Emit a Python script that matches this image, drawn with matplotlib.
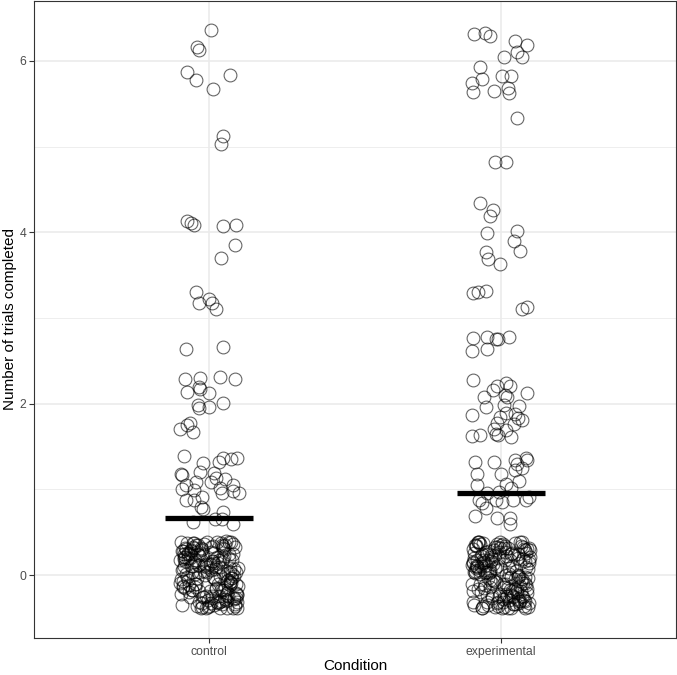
import matplotlib
matplotlib.use('Agg')
import matplotlib.pyplot as plt

# categories and the group means
conditions = ['control', 'experimental']
mean_trials = [0.66, 0.96]

# jittered points, horizontal offset from the category and trials value
ctrl_dx = [0.006, -0.042, -0.034, -0.076, -0.045, 0.072, 0.013, 0.046, 0.041,
           -0.074, -0.063, -0.050, 0.047, 0.092, 0.090, 0.040,
           -0.045, -0.033, -0.002, 0.011, 0.024, -0.079, 0.049,
           -0.083, -0.031, 0.037, 0.089, -0.074, -0.034, -0.031, -0.002, 0.046,
           -0.039, -0.034, 0.000, -0.067, -0.099, -0.074, -0.056,
           -0.087, -0.022, 0.049, 0.074, 0.097, 0.033, -0.096, -0.092, -0.031,
           0.018, 0.024, 0.007, 0.055, -0.079, -0.045, -0.093, -0.051, 0.038,
           0.043, 0.083, 0.081, 0.102, -0.079, -0.025, -0.051, -0.027, -0.020,
           0.046, -0.054, 0.021, 0.043, 0.083,
           -0.083, 0.031, -0.017, 0.072, -0.054, 0.091, 0.012, -0.096, 0.048, -0.029,
           0.064, -0.071, 0.004, 0.043, -0.099, 0.079, -0.041, 0.022, -0.062, 0.097,
           -0.008, 0.056, -0.087, 0.027, 0.069, -0.048, -0.021, 0.088, -0.074, 0.015,
           0.039, -0.091, 0.061, -0.033, -0.003, 0.082, -0.058, 0.019, -0.094, 0.052,
           -0.044, 0.074, -0.012, 0.093, -0.079, 0.035, -0.051, 0.066, 0.007, -0.068,
           0.099, -0.024, 0.046, -0.088, 0.013, 0.084, -0.036, 0.053, -0.063, 0.024,
           -0.081, 0.071, -0.039, 0.089, -0.006, 0.033, -0.097, 0.059, -0.047, 0.002,
           0.041, -0.073, 0.078, -0.019, 0.011, -0.092, 0.049, -0.027, 0.096, -0.057,
           0.018, -0.084, 0.068, -0.043, 0.029, 0.087, -0.014, -0.052, 0.063, -0.098,
           -0.001, 0.038, -0.069, 0.081, -0.023, 0.054, -0.089, 0.009, -0.034, 0.073,
           -0.061, 0.094, -0.038, 0.021, -0.077, 0.058, 0.026, -0.011, 0.086, -0.049,
           0.005, -0.066, 0.044, 0.076, -0.086, 0.016, -0.031, 0.051, -0.059, 0.067,
           0.014, -0.095, 0.062, -0.018, 0.091, -0.042, 0.034, -0.078, 0.047, -0.004,
           0.071, -0.029, 0.045, -0.086, 0.008, 0.093, -0.053, 0.025, -0.071, 0.057,
           -0.015, 0.083, -0.093, 0.037, -0.045, 0.065, -0.007, 0.099, -0.064, 0.028,
           -0.035, 0.049, -0.082, 0.011, 0.075, -0.056, 0.042, -0.022, 0.088, -0.090,
           0.052, -0.067, 0.018, -0.039, 0.084, -0.010, 0.063, -0.085, 0.030, -0.058,
           -0.026, 0.097, -0.047, 0.006, 0.070, -0.091, 0.040, -0.016, 0.079, -0.072]
ctrl_y = [6.36, 6.16, 6.13, 5.87, 5.78, 5.84, 5.67, 5.12, 5.03,
          4.13, 4.11, 4.08, 4.07, 4.08, 3.85, 3.70,
          3.30, 3.18, 3.22, 3.18, 3.11, 2.64, 2.66,
          2.29, 2.30, 2.31, 2.29, 2.14, 2.19, 2.17, 2.13, 2.01,
          1.98, 1.95, 1.96, 1.77, 1.70, 1.75, 1.67,
          1.39, 1.31, 1.37, 1.35, 1.37, 1.32, 1.18, 1.17, 1.20,
          1.19, 1.13, 1.08, 1.12, 1.05, 1.09, 1.00, 0.99, 1.01,
          0.96, 1.05, 0.98, 0.96, 0.87, 0.91, 0.87, 0.79, 0.77,
          0.74, 0.62, 0.65, 0.65, 0.60,
          0.21, -0.33, 0.05, -0.12, 0.37, -0.27, 0.14, -0.05, 0.31, -0.38,
          0.02, 0.26, -0.19, 0.35, -0.09, 0.18, -0.36, 0.09, 0.29, -0.23,
          0.39, -0.14, 0.11, -0.31, 0.24, 0.01, -0.26, 0.33, -0.02, 0.16,
          -0.39, 0.28, -0.07, 0.12, -0.29, 0.36, -0.17, 0.07, -0.35, 0.22,
          -0.11, 0.38, -0.24, 0.04, 0.30, -0.32, 0.15, -0.06, 0.27, -0.20,
          0.08, -0.37, 0.19, -0.13, 0.34, -0.01, 0.23, -0.28, 0.10, -0.16,
          0.32, -0.08, 0.25, -0.34, 0.03, 0.17, -0.22, 0.40, -0.10, 0.13,
          -0.30, 0.20, -0.04, 0.36, -0.25, 0.06, -0.18, 0.29, -0.39, 0.11,
          0.26, -0.15, 0.38, -0.03, 0.14, -0.27, 0.00, 0.32, -0.21, 0.18,
          -0.36, 0.09, -0.12, 0.24, -0.33, 0.35, -0.07, 0.16, -0.19, 0.03,
          0.28, -0.31, 0.12, -0.05, 0.37, -0.23, 0.21, -0.38, 0.07, -0.14,
          0.33, -0.26, 0.15, -0.09, 0.25, -0.35, 0.04, 0.30, -0.17, 0.19,
          -0.02, 0.39, -0.29, 0.10, -0.11, 0.27, -0.24, 0.01, 0.34, -0.37,
          -0.08, 0.31, -0.34, 0.19, 0.06, -0.21, 0.37, -0.15, 0.24, -0.30,
          0.13, -0.39, 0.28, -0.01, 0.35, -0.25, 0.09, -0.13, 0.20, 0.38,
          -0.32, 0.02, 0.16, -0.27, -0.04, 0.33, -0.18, 0.23, -0.36, 0.07,
          -0.17, 0.26, -0.03, 0.35, -0.28, 0.12, -0.38, 0.21, -0.10, 0.04,
          0.30, -0.22, 0.17, -0.33, 0.08, -0.14, 0.37, -0.26, 0.01, -0.06]

exp_dx = [-0.092, -0.056, -0.038, 0.048, 0.090, 0.054, 0.072, 0.010, -0.072,
          -0.064, -0.098, -0.097, 0.004, 0.033, -0.024, 0.025, 0.027,
          0.054, -0.021, 0.016, -0.070, -0.026, -0.038, -0.049, 0.056,
          0.045, 0.065, -0.052, -0.043, -0.004,
          -0.095, -0.079, -0.050, 0.073, 0.090, -0.095, -0.047, -0.018, -0.009,
          0.027, -0.098, -0.047, -0.096, -0.013, 0.018, 0.031, -0.026, -0.058,
          0.013, 0.022, 0.088, -0.050, 0.010, 0.062, 0.019, 0.048, -0.098,
          -0.004, 0.058, 0.073, -0.015, 0.045, -0.022, 0.016, -0.018, -0.010,
          -0.098, -0.070, 0.033, -0.090, -0.024, 0.047, 0.085, 0.090, 0.054,
          0.048, 0.073, -0.083, 0.001, 0.062, -0.083, 0.016, 0.035, -0.047,
          -0.007, -0.075, -0.064, -0.052, -0.018, 0.004, 0.042, 0.085, 0.096,
          -0.090, -0.013, 0.031, 0.031,
          0.057, -0.081, 0.014, -0.036, 0.092, -0.064, 0.027, -0.097, 0.071, -0.009,
          -0.052, 0.083, -0.024, 0.041, -0.088, 0.006, 0.066, -0.043, 0.098, -0.071,
          0.019, -0.014, 0.077, -0.059, 0.034, -0.093, 0.049, 0.002, -0.076, 0.088,
          -0.031, 0.061, -0.046, 0.012, -0.099, 0.073, -0.019, 0.037, -0.066, 0.095,
          0.024, -0.084, 0.054, -0.007, 0.081, -0.038, 0.009, -0.061, 0.068, -0.091,
          0.043, -0.027, 0.089, -0.049, 0.016, -0.073, 0.058, -0.011, 0.096, -0.056,
          -0.002, 0.074, -0.086, 0.031, -0.041, 0.063, -0.095, 0.021, 0.085, -0.068,
          0.047, -0.017, 0.079, -0.034, -0.089, 0.011, 0.069, -0.054, 0.036, -0.003,
          0.093, -0.078, 0.026, -0.044, 0.059, -0.013, -0.098, 0.082, -0.029, 0.052,
          0.004, -0.063, 0.072, -0.021, 0.039, -0.083, 0.087, -0.047, 0.018, -0.072,
          0.064, -0.006, 0.029, -0.091, 0.046, -0.037, 0.097, -0.058, 0.008, 0.076,
          -0.025, -0.079, 0.055, -0.015, 0.084, -0.051, 0.033, -0.094, 0.067, 0.001,
          -0.039, 0.091, -0.069, 0.022, -0.085, 0.044, 0.078, -0.032, 0.013, -0.061,
          -0.048, 0.086, -0.012, 0.061, -0.091, 0.032, -0.066, 0.099, -0.027, 0.017,
          0.075, -0.081, 0.041, -0.004, -0.058, 0.092, -0.035, 0.053, -0.097, 0.024,
          0.069, -0.019, -0.074, 0.038, 0.081, -0.044, 0.006, -0.087, 0.057, -0.031,
          -0.068, 0.028, -0.089, 0.050, -0.005, 0.080, -0.042, 0.015, -0.077, 0.065,
          0.035, -0.060, 0.095, -0.020, 0.007, -0.095, 0.060, -0.033, 0.023, 0.083]
exp_y = [6.32, 6.33, 6.29, 6.23, 6.19, 6.11, 6.05, 6.05, 5.93,
         5.79, 5.74, 5.64, 5.82, 5.83, 5.65, 5.68, 5.63,
         5.33, 4.82, 4.82, 4.34, 4.26, 4.19, 3.99, 4.02,
         3.90, 3.78, 3.77, 3.69, 3.63,
         3.29, 3.30, 3.31, 3.10, 3.13, 2.77, 2.78, 2.76, 2.76,
         2.78, 2.61, 2.64, 2.28, 2.21, 2.24, 2.21, 2.16, 2.08,
         2.10, 2.08, 2.12, 1.96, 1.98, 1.97, 1.89, 1.88, 1.87,
         1.84, 1.83, 1.81, 1.77, 1.76, 1.71, 1.69, 1.65, 1.63,
         1.62, 1.64, 1.61, 1.32, 1.32, 1.34, 1.37, 1.34, 1.30,
         1.23, 1.25, 1.18, 1.18, 1.10, 1.05, 1.06, 1.01, 0.96,
         0.97, 0.87, 0.84, 0.78, 0.88, 0.85, 0.87, 0.88, 0.91,
         0.69, 0.66, 0.66, 0.60,
         -0.28, 0.17, 0.34, -0.06, -0.37, 0.25, 0.08, -0.19, 0.39, -0.31,
         0.12, -0.02, 0.29, -0.24, 0.05, 0.36, -0.13, -0.35, 0.21, 0.01,
         -0.27, 0.33, -0.09, 0.15, -0.38, 0.26, -0.16, 0.07, 0.38, -0.21,
         0.19, -0.33, 0.03, 0.31, -0.11, -0.25, 0.23, 0.10, -0.39, 0.14,
         -0.04, 0.35, -0.18, 0.27, -0.30, 0.06, -0.14, 0.37, -0.07, 0.20,
         -0.34, 0.13, 0.30, -0.23, 0.00, -0.10, 0.24, -0.36, 0.18, 0.04,
         0.32, -0.26, 0.11, -0.17, 0.28, -0.01, -0.32, 0.22, 0.09, -0.20,
         0.37, -0.08, -0.29, 0.16, 0.02, -0.37, 0.34, -0.12, 0.25, -0.22,
         0.07, 0.39, -0.15, -0.03, 0.20, -0.33, 0.12, 0.29, -0.27, 0.05,
         -0.39, 0.17, -0.05, 0.33, -0.19, 0.09, 0.26, -0.31, -0.10, 0.36,
         0.14, -0.24, 0.01, -0.35, 0.23, -0.14, 0.31, 0.06, -0.28, 0.19,
         -0.07, 0.38, -0.21, 0.11, -0.38, 0.27, -0.02, 0.15, -0.30, 0.35,
         0.03, -0.16, 0.22, -0.25, 0.08, -0.34, 0.30, -0.09, 0.18, -0.36,
         0.24, -0.12, 0.36, -0.30, 0.04, 0.17, -0.38, 0.29, -0.06, -0.22,
         0.33, 0.10, -0.26, 0.39, -0.15, -0.03, 0.21, -0.34, 0.14, 0.31,
         -0.19, -0.37, 0.06, 0.26, -0.09, 0.18, -0.31, 0.34, 0.00, -0.24,
         0.11, -0.29, 0.35, -0.05, 0.20, -0.36, 0.02, 0.27, -0.16, 0.38,
         -0.23, 0.14, -0.33, 0.08, -0.11, 0.30, -0.02, 0.23, -0.39, 0.16]

plt.rcParams['font.family'] = ['Liberation Sans', 'DejaVu Sans']

fig = plt.figure(figsize=(6.77, 6.75), dpi=100)
ax = fig.add_axes([34 / 677, 37 / 675, 642 / 677, 637 / 675])

# grid like theme_bw
for v in [1, 3, 5]:
    ax.axhline(v, color='#ebebeb', lw=0.6, zorder=0)
for v in [0, 2, 4, 6]:
    ax.axhline(v, color='#ebebeb', lw=1.2, zorder=0)
for v in [1, 2]:
    ax.axvline(v, color='#ebebeb', lw=1.2, zorder=0)

groups = [(ctrl_dx, ctrl_y), (exp_dx, exp_y)]
for i, (dx, y) in enumerate(groups):
    xs = [i + 1 + d for d in dx]
    ax.plot(xs, y, 'o', ms=9.2, mfc='none', mec='black', mew=0.8,
            alpha=0.6, zorder=2)

for i, m in enumerate(mean_trials):
    ax.hlines(m, i + 1 - 0.15, i + 1 + 0.15, color='black', lw=3.8,
              zorder=3, capstyle='butt')

ax.set_xlim(0.4, 2.6)
ax.set_ylim(-0.735, 6.70)
ax.set_xticks([1, 2])
ax.set_xticklabels(conditions)
ax.set_yticks([0, 2, 4, 6])
ax.tick_params(length=3.5, width=0.8, color='#333333', labelsize=8.8,
               labelcolor='#4d4d4d', pad=2)
for s in ax.spines.values():
    s.set_color('#333333')
    s.set_linewidth(0.8)
ax.set_xlabel('Condition', fontsize=11, labelpad=1)
ax.set_ylabel('Number of trials completed', fontsize=11, labelpad=2)

fig.savefig('out.png', dpi=100)
